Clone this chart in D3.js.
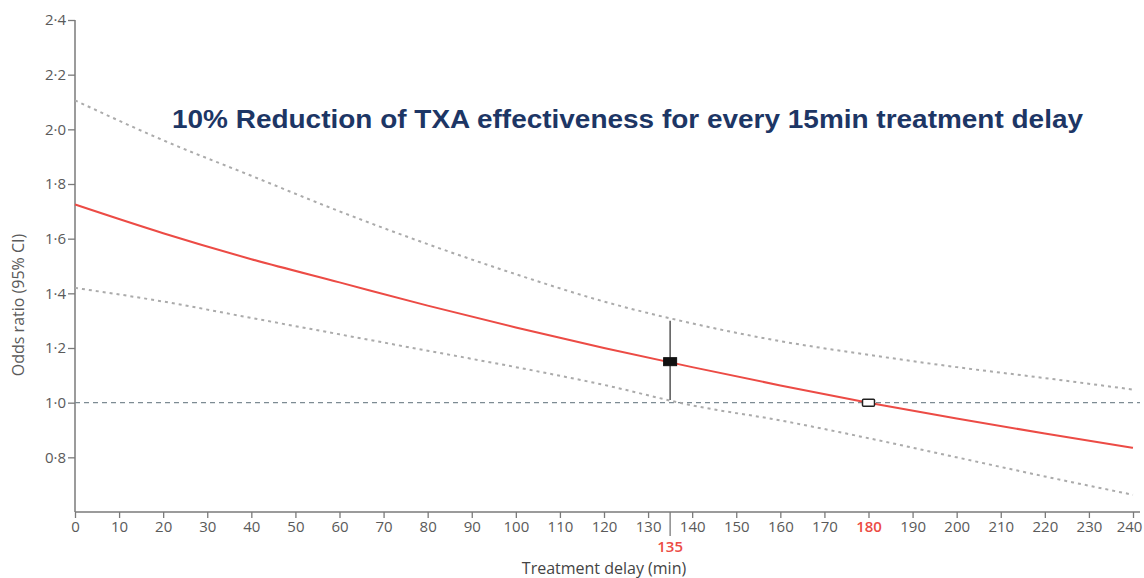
<!DOCTYPE html>
<html>
<head>
<meta charset="utf-8">
<script src="https://cdn.jsdelivr.net/npm/d3@7"></script>
<style>
  body { margin: 0; background: #fff; }
  svg { display: block; }
</style>
</head>
<body>
<div id="chart"></div>
<script>
// treatment delay (min) and odds ratio curves
const delays   = [0, 20, 40, 60, 80, 100, 120, 140, 160, 180, 200, 220, 240];
const oddsMid  = [1.725, 1.62, 1.525, 1.44, 1.355, 1.275, 1.20, 1.13, 1.063, 1.0, 0.942, 0.887, 0.835];
const oddsHigh = [2.106, 1.96, 1.83, 1.70, 1.58, 1.47, 1.37, 1.29, 1.225, 1.175, 1.13, 1.09, 1.048];
const oddsLow  = [1.42, 1.37, 1.31, 1.25, 1.19, 1.13, 1.065, 0.99, 0.935, 0.87, 0.80, 0.73, 0.663];

const xTicks = d3.range(0, 241, 10);
const yTicks = [0.8, 1.0, 1.2, 1.4, 1.6, 1.8, 2.0, 2.2, 2.4];

// highlighted points: mean delay (with CI) and the point where benefit is lost
const meanPoint = { delay: 135, or: 1.15, lo: 1.01, hi: 1.30 };
const nullPoint = { delay: 180, or: 1.0 };

const title = "10% Reduction of TXA effectiveness for every 15min treatment delay";

const width = 1144, height = 578;
const margin = { top: 20, right: 11, bottom: 66, left: 75 };

const svg = d3.select("#chart").append("svg")
  .attr("width", width)
  .attr("height", height);

const x = d3.scaleLinear().domain([0, 240]).range([margin.left, width - margin.right]);
const y = d3.scaleLinear().domain([0.6, 2.4]).range([height - margin.bottom, margin.top]);

const axisColor = "#7a7a7a";
const labelColor = "#5a5a5a";
const red = "#ec4b45";
const font = "'Open Sans', sans-serif";
const fmt = v => d3.format(".1f")(v).replace(".", "·");

// y axis
const yAxis = svg.append("g")
  .attr("transform", `translate(${margin.left},0)`)
  .call(d3.axisLeft(y).tickValues(yTicks).tickFormat(fmt).tickSize(7).tickSizeOuter(0).tickPadding(2));
yAxis.select(".domain").attr("stroke", axisColor).attr("stroke-width", 1.5)
  .attr("d", `M0,${y(2.4)}V${y(0.6)}`);
yAxis.selectAll(".tick line").attr("stroke", axisColor).attr("stroke-width", 1.3);
yAxis.selectAll(".tick text")
  .attr("fill", labelColor)
  .style("font-family", font)
  .style("font-size", "15px");

// x axis
const xAxis = svg.append("g")
  .attr("transform", `translate(0,${y(0.6)})`)
  .call(d3.axisBottom(x).tickValues(xTicks).tickSize(6).tickSizeOuter(0).tickPadding(3));
xAxis.select(".domain").attr("stroke", axisColor).attr("stroke-width", 1.5)
  .attr("d", `M${x(0)},0H${width - 4}`);
xAxis.selectAll(".tick line").attr("stroke", axisColor).attr("stroke-width", 1.3);
xAxis.selectAll(".tick text")
  .attr("fill", d => d === nullPoint.delay ? red : labelColor)
  .attr("dx", d => d === 240 ? -4 : 0)
  .style("font-weight", d => d === nullPoint.delay ? "600" : null)
  .style("font-family", font)
  .style("font-size", "15px");

// extra long tick + red label at mean delay
xAxis.append("line")
  .attr("x1", x(meanPoint.delay)).attr("x2", x(meanPoint.delay))
  .attr("y1", 0).attr("y2", 24)
  .attr("stroke", axisColor).attr("stroke-width", 1.3);
xAxis.append("text")
  .attr("x", x(meanPoint.delay)).attr("y", 40)
  .attr("text-anchor", "middle")
  .attr("fill", red)
  .style("font-family", font)
  .style("font-size", "15px")
  .style("font-weight", "600")
  .text(meanPoint.delay);

// axis titles
svg.append("text")
  .attr("transform", `translate(24,305) rotate(-90)`)
  .attr("text-anchor", "middle")
  .attr("fill", labelColor)
  .style("font-family", font)
  .style("font-size", "16px")
  .text("Odds ratio (95% CI)");

svg.append("text")
  .attr("x", (x(0) + x(240)) / 2)
  .attr("y", height - 4)
  .attr("text-anchor", "middle")
  .attr("fill", "#444")
  .style("font-family", font)
  .style("font-size", "16px")
  .text("Treatment delay (min)");

// reference line at OR = 1
svg.append("line")
  .attr("x1", x(0)).attr("x2", width - 4)
  .attr("y1", y(1)).attr("y2", y(1))
  .attr("stroke", "#7d8b93")
  .attr("stroke-width", 1.4)
  .attr("stroke-dasharray", "5,4");

const lineOf = vals => d3.line()
  .curve(d3.curveMonotoneX)
  .x((d, i) => x(delays[i]))
  .y(d => y(d))(vals);

// confidence limits
[oddsHigh, oddsLow].forEach(vals => {
  svg.append("path")
    .attr("d", lineOf(vals))
    .attr("fill", "none")
    .attr("stroke", "#ababab")
    .attr("stroke-width", 2)
    .attr("stroke-dasharray", "3,4");
});

// estimate
svg.append("path")
  .attr("d", lineOf(oddsMid))
  .attr("fill", "none")
  .attr("stroke", red)
  .attr("stroke-width", 2);

// error bar at mean delay
svg.append("line")
  .attr("x1", x(meanPoint.delay)).attr("x2", x(meanPoint.delay))
  .attr("y1", y(meanPoint.hi)).attr("y2", y(meanPoint.lo))
  .attr("stroke", "#555")
  .attr("stroke-width", 1.5);

svg.append("rect")
  .attr("x", x(meanPoint.delay) - 6.5).attr("y", y(meanPoint.or) - 4)
  .attr("width", 13).attr("height", 8)
  .attr("fill", "#111")
  .attr("stroke", "#111");

svg.append("rect")
  .attr("x", x(nullPoint.delay) - 6).attr("y", y(nullPoint.or) - 3.5)
  .attr("width", 12).attr("height", 7)
  .attr("rx", 1)
  .attr("fill", "#fff")
  .attr("stroke", "#222")
  .attr("stroke-width", 1.5);

// headline
svg.append("text")
  .attr("x", 172)
  .attr("y", 128)
  .attr("fill", "#1d3665")
  .attr("textLength", 911)
  .attr("lengthAdjust", "spacingAndGlyphs")
  .style("font-family", "'Liberation Sans', Arial, sans-serif")
  .style("font-weight", "bold")
  .style("font-size", "25px")
  .text(title);
</script>
</body>
</html>
